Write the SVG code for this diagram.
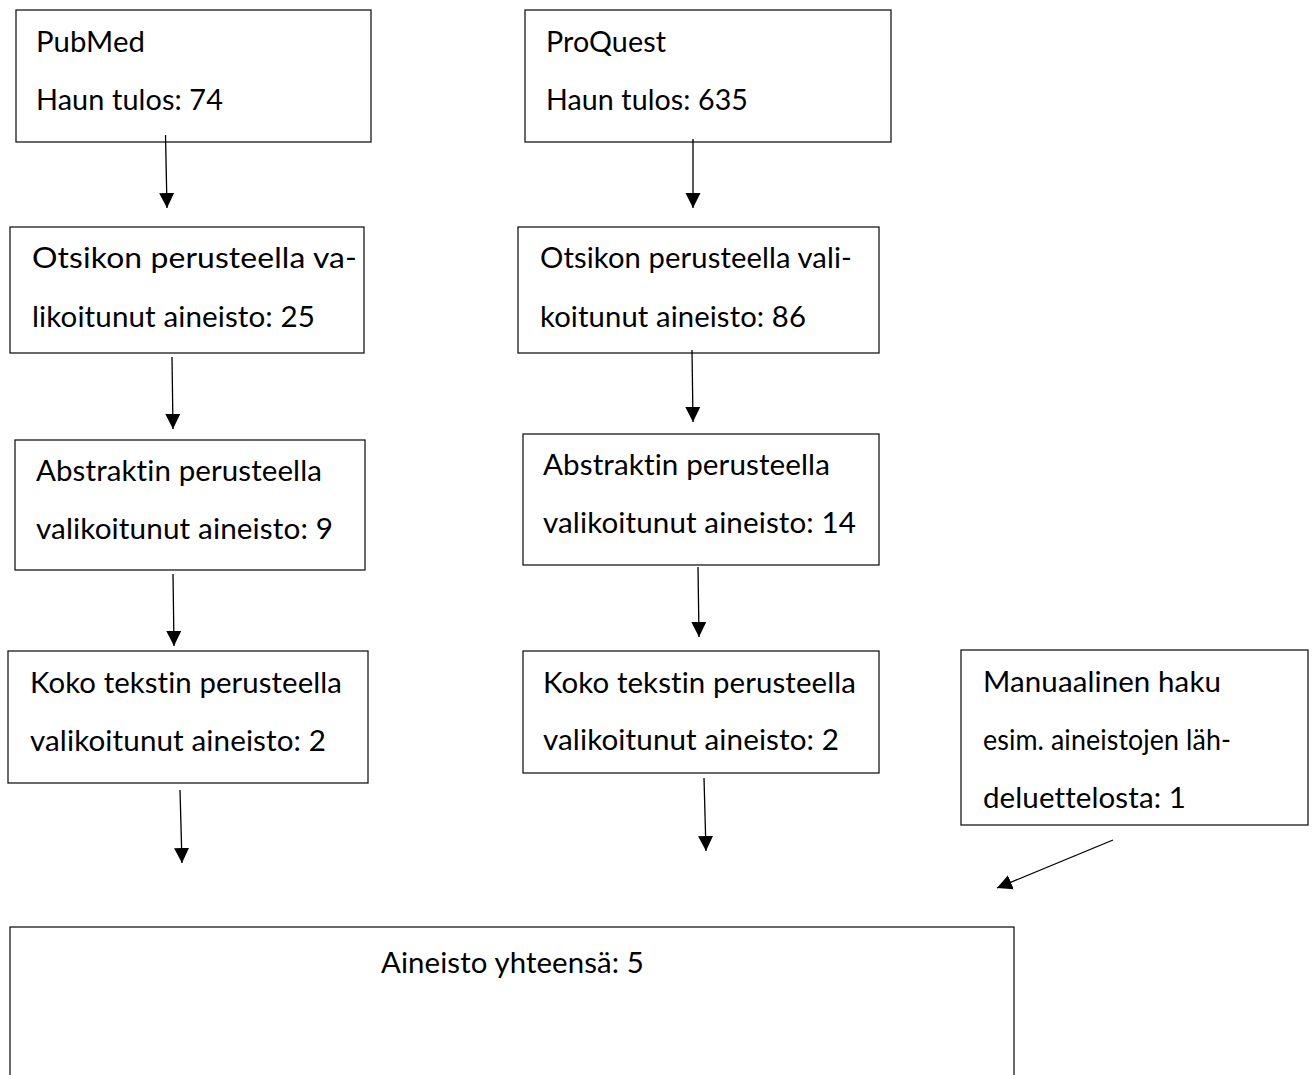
<svg xmlns="http://www.w3.org/2000/svg" width="1314" height="1075" viewBox="0 0 1314 1075">
<defs>
<style>
.box{fill:#fff;stroke:#1a1a1a;stroke-width:1.3}
.t{font-family:Lato,"Open Sans","Liberation Sans",sans-serif;font-size:29px;fill:#000;letter-spacing:0.1px;font-variant-ligatures:none;font-feature-settings:"liga" 0,"clig" 0,"dlig" 0}
.c{stroke:#000;stroke-width:1.3;fill:none;marker-end:url(#ah)}
</style>
<marker id="ah" markerUnits="userSpaceOnUse" markerWidth="16" markerHeight="16" viewBox="0 0 16 16" refX="15" refY="8" orient="auto">
<path d="M0,0.5 L15,8 L0,15.5 Z" fill="#000"/>
</marker>
</defs>
<rect width="1314" height="1075" fill="#fff"/>
<g id="n1">
<rect class="box" x="16" y="10" width="355" height="132"/>
<text class="t" x="36" y="52" textLength="109" lengthAdjust="spacingAndGlyphs">PubMed</text>
<text class="t" x="36" y="110" textLength="187" lengthAdjust="spacingAndGlyphs">Haun tulos: 74</text>
</g>
<g id="n2">
<rect class="box" x="525" y="10" width="366" height="132"/>
<text class="t" x="546" y="52" textLength="120" lengthAdjust="spacingAndGlyphs">ProQuest</text>
<text class="t" x="546" y="110" textLength="202" lengthAdjust="spacingAndGlyphs">Haun tulos: 635</text>
</g>
<g id="n3">
<rect class="box" x="10" y="227" width="354" height="126"/>
<text class="t" x="32" y="268" textLength="325" lengthAdjust="spacingAndGlyphs">Otsikon perusteella va-</text>
<text class="t" x="32" y="327" textLength="283" lengthAdjust="spacingAndGlyphs">likoitunut aineisto: 25</text>
</g>
<g id="n4">
<rect class="box" x="518" y="227" width="361" height="126"/>
<text class="t" x="540" y="268" textLength="312" lengthAdjust="spacingAndGlyphs">Otsikon perusteella vali-</text>
<text class="t" x="540" y="327" textLength="266" lengthAdjust="spacingAndGlyphs">koitunut aineisto: 86</text>
</g>
<g id="n5">
<rect class="box" x="15" y="440" width="350" height="130"/>
<text class="t" x="36" y="481" textLength="286" lengthAdjust="spacingAndGlyphs">Abstraktin perusteella</text>
<text class="t" x="36" y="539" textLength="297" lengthAdjust="spacingAndGlyphs">valikoitunut aineisto: 9</text>
</g>
<g id="n6">
<rect class="box" x="523" y="434" width="356" height="131"/>
<text class="t" x="543" y="475" textLength="287" lengthAdjust="spacingAndGlyphs">Abstraktin perusteella</text>
<text class="t" x="543" y="533" textLength="313" lengthAdjust="spacingAndGlyphs">valikoitunut aineisto: 14</text>
</g>
<g id="n7">
<rect class="box" x="8" y="651" width="360" height="132"/>
<text class="t" x="30" y="693" textLength="312" lengthAdjust="spacingAndGlyphs">Koko tekstin perusteella</text>
<text class="t" x="30" y="751" textLength="296" lengthAdjust="spacingAndGlyphs">valikoitunut aineisto: 2</text>
</g>
<g id="n8">
<rect class="box" x="523" y="651" width="356" height="122"/>
<text class="t" x="543" y="693" textLength="313" lengthAdjust="spacingAndGlyphs">Koko tekstin perusteella</text>
<text class="t" x="543" y="750" textLength="296" lengthAdjust="spacingAndGlyphs">valikoitunut aineisto: 2</text>
</g>
<g id="n9">
<rect class="box" x="961" y="650" width="347" height="175"/>
<text class="t" x="983" y="692" textLength="238" lengthAdjust="spacingAndGlyphs">Manuaalinen haku</text>
<text class="t" x="983" y="750" textLength="248" lengthAdjust="spacingAndGlyphs">esim. aineistojen läh-</text>
<text class="t" x="983" y="808" textLength="203" lengthAdjust="spacingAndGlyphs">deluettelosta: 1</text>
</g>
<g id="n10">
<rect class="box" x="10" y="927" width="1004" height="200"/>
<text class="t" x="381" y="973" textLength="263" lengthAdjust="spacingAndGlyphs">Aineisto yhteensä: 5</text>
</g>
<g id="connectors">
<line class="c" x1="165.5" y1="135" x2="167" y2="208"/>
<line class="c" x1="693" y1="139" x2="693" y2="208"/>
<line class="c" x1="172" y1="357" x2="173" y2="429"/>
<line class="c" x1="692" y1="350" x2="693" y2="422"/>
<line class="c" x1="173" y1="574" x2="174" y2="646"/>
<line class="c" x1="698" y1="567" x2="699" y2="637"/>
<line class="c" x1="180" y1="790" x2="182" y2="863"/>
<line class="c" x1="704" y1="778" x2="706" y2="851"/>
<line class="c" x1="1113" y1="840" x2="997" y2="888"/>
</g>
</svg>
